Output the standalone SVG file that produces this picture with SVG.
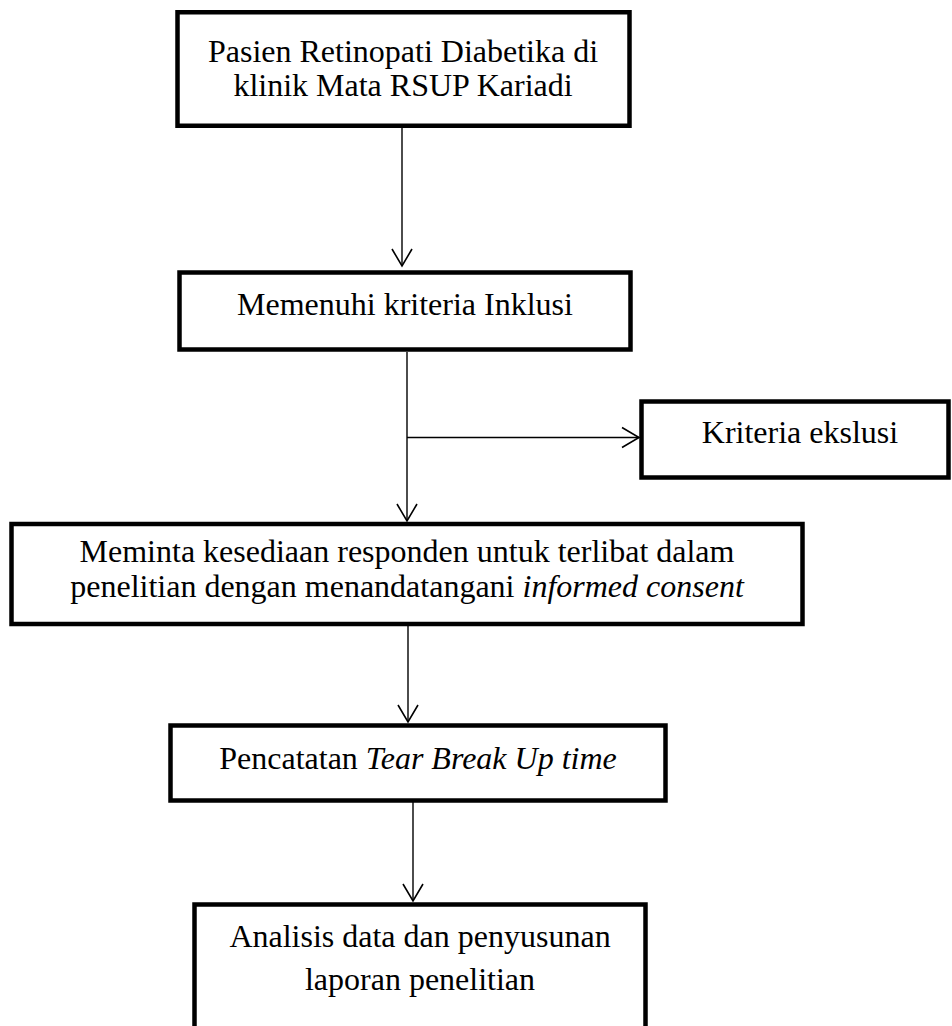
<svg xmlns="http://www.w3.org/2000/svg" width="952" height="1026" viewBox="0 0 952 1026">
<style>
.box{fill:#fff;stroke:#000;stroke-width:4.5;stroke-linejoin:miter}
.t{font-family:"Liberation Serif","Times New Roman",serif;font-size:32px;fill:#000;text-anchor:middle}
.i{font-style:italic}
.c{fill:none;stroke:#000;stroke-width:1.4}
</style>
<defs>
<marker id="ah" markerUnits="userSpaceOnUse" markerWidth="20" markerHeight="24" viewBox="0 0 20 24" refX="18" refY="12" orient="auto">
<path d="M1,2 L18,12 L1,22" fill="none" stroke="#000" stroke-width="1.6"/>
</marker>
</defs>
<rect width="952" height="1026" fill="#fff"/>
<g id="connectors">
<line class="c" x1="402" y1="128" x2="402" y2="266" marker-end="url(#ah)"/>
<line class="c" x1="407" y1="352" x2="407" y2="521" marker-end="url(#ah)"/>
<line class="c" x1="407" y1="437.5" x2="639" y2="437.5" marker-end="url(#ah)"/>
<line class="c" x1="408" y1="626" x2="408" y2="722" marker-end="url(#ah)"/>
<line class="c" x1="413" y1="802" x2="413" y2="901" marker-end="url(#ah)"/>
</g>
<g id="n1">
<rect class="box" x="177.5" y="12.25" width="452" height="113.5"/>
<text class="t" x="403" y="62">Pasien Retinopati Diabetika di</text>
<text class="t" x="403" y="96">klinik Mata RSUP Kariadi</text>
</g>
<g id="n2">
<rect class="box" x="179.5" y="272.5" width="451" height="77"/>
<text class="t" x="405" y="315">Memenuhi kriteria Inklusi</text>
</g>
<g id="n3">
<rect class="box" x="641.5" y="401.5" width="307" height="76"/>
<text class="t" x="800" y="443">Kriteria ekslusi</text>
</g>
<g id="n4">
<rect class="box" x="11.5" y="524" width="791" height="100"/>
<text class="t" x="407" y="562">Meminta kesediaan responden untuk terlibat dalam</text>
<text class="t" x="407" y="597">penelitian dengan menandatangani <tspan class="i">informed consent</tspan></text>
</g>
<g id="n5">
<rect class="box" x="170.5" y="725.5" width="495" height="75"/>
<text class="t" x="418" y="769">Pencatatan <tspan class="i">Tear Break Up time</tspan></text>
</g>
<g id="n6">
<rect class="box" x="194.5" y="904.5" width="451" height="140"/>
<text class="t" x="420" y="947">Analisis data dan penyusunan</text>
<text class="t" x="420" y="990">laporan penelitian</text>
</g>
</svg>
